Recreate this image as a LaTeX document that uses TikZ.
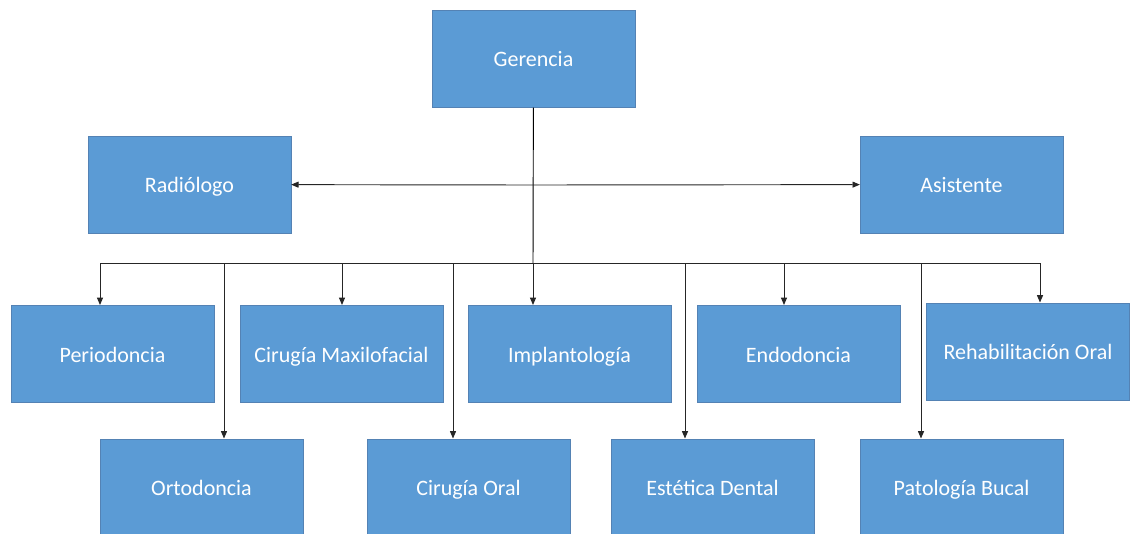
\documentclass[tikz,border=0pt]{standalone}
\usepackage{fontspec}
\setmainfont{Carlito}
\usepackage{tikz}
\usetikzlibrary{positioning, arrows.meta}
\definecolor{boxblue}{RGB}{91,155,213}
\definecolor{boxedge}{RGB}{84,130,180}

\begin{document}
\begin{tikzpicture}[
    x=0.75pt, y=-0.75pt,
    % Office-like blue box style
    orgbox/.style={
        rectangle,
        draw=boxedge,
        fill=boxblue,
        line width=0.5pt,
        minimum width=152pt,
        minimum height=73pt,
        align=center,
        text=white,
        text height=14pt,
        text depth=2pt,
        font=\fontsize{16.5}{19}\selectfont
    },
    link/.style={-{Triangle[length=5.5pt,width=4.5pt]}, line width=0.7pt, black!85}
]
    \useasboundingbox (0,0) rectangle (1135,533);

    % Nodes - top
    \node[orgbox] (ger) at (533.5,58.5) {Gerencia};
    \node[orgbox] (rad) at (189.5,184.5) {Radiólogo};
    \node[orgbox] (asis) at (961.5,184.5) {Asistente};

    % Nodes - first row
    \node[orgbox] (perio) at (112.5,354) {Periodoncia};
    \node[orgbox] (cmax) at (341.5,354) {Cirugía Maxilofacial};
    \node[orgbox] (impl) at (569.5,354) {Implantología};
    \node[orgbox] (endo) at (798.5,354) {Endodoncia};
    \node[orgbox] (rehab) at (1028,351.5) {Rehabilitación Oral};

    % Nodes - second row
    \node[orgbox] (orto) at (201.5,487.5) {Ortodoncia};
    \node[orgbox] (coral) at (468.5,487.5) {Cirugía Oral};
    \node[orgbox] (este) at (712.5,487.5) {Estética Dental};
    \node[orgbox] (pato) at (961.5,487.5) {Patología Bucal};

    % Coordinates on the trunk and bus
    \coordinate (hub) at (533,185);
    \coordinate (bus) at (533,263);
    \coordinate (dperio) at (100,263);
    \coordinate (dorto) at (224,263);
    \coordinate (dcmax) at (342,263);
    \coordinate (dcoral) at (453,263);
    \coordinate (dimpl) at (533,263);
    \coordinate (deste) at (685,263);
    \coordinate (dendo) at (784,263);
    \coordinate (dpato) at (921,263);
    \coordinate (drehab) at (1040,263);

    % Edges
    \draw[line width=0.7pt, black] (ger) -- (bus);
    \draw[link] (hub) -- (rad);
    \draw[link] (hub) -- (asis);
    \draw[line width=0.7pt, black!85] (dperio) -- (drehab);
    \draw[link] (dperio) -- (dperio |- perio.north);
    \draw[link] (dorto) -- (dorto |- orto.north);
    \draw[link] (dcmax) -- (dcmax |- cmax.north);
    \draw[link] (dcoral) -- (dcoral |- coral.north);
    \draw[link] (dimpl) -- (dimpl |- impl.north);
    \draw[link] (deste) -- (deste |- este.north);
    \draw[link] (dendo) -- (dendo |- endo.north);
    \draw[link] (dpato) -- (dpato |- pato.north);
    \draw[link] (drehab) -- (drehab |- rehab.north);

\end{tikzpicture}
\end{document}
